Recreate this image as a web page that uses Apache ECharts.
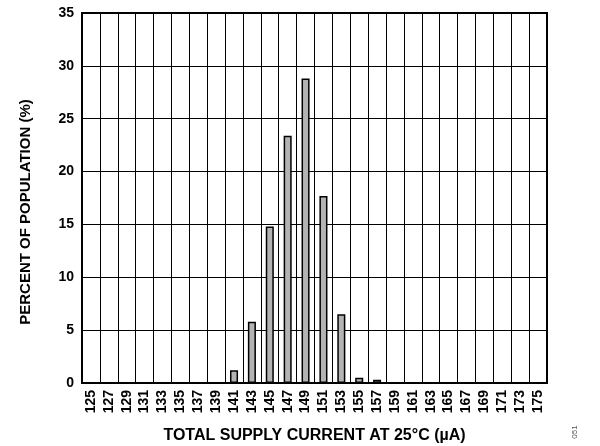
<!DOCTYPE html>
<html><head><meta charset="utf-8">
<script src="https://cdn.jsdelivr.net/npm/echarts@6/dist/echarts.min.js"></script>
<style>html,body{margin:0;padding:0;background:#fff}#c{width:600px;height:446px}</style>
</head><body><div id="c"></div>
<script>
const categories = ['125','127','129','131','133','135','137','139','141','143','145','147','149','151','153','155','157','159','161','163','165','167','169','171','173','175'];
const percentValues = [0,0,0,0,0,0,0,0,1.2,5.8,14.8,23.4,28.8,17.7,6.5,0.5,0.3,0,0,0,0,0,0,0,0,0];
const yTicks = {min: 0, max: 35, interval: 5};
const xTitle = 'TOTAL SUPPLY CURRENT AT 25°C (µA)';
const yTitle = 'PERCENT OF POPULATION (%)';
const figId = '051';

const font = 'Liberation Sans, Arial, sans-serif';
const chart = echarts.init(document.getElementById('c'), null, {renderer: 'canvas'});
chart.setOption({
  animation: false,
  backgroundColor: '#fff',
  grid: {left: 82, right: 53, top: 13, bottom: 63, show: true, borderColor: '#000', borderWidth: 2,
         containLabel: false, outerBoundsMode: 'none'},
  xAxis: {
    type: 'category', data: categories, boundaryGap: true,
    name: xTitle, nameLocation: 'middle', nameGap: 45,
    nameTextStyle: {fontFamily: font, fontWeight: 'bold', fontSize: 16, color: '#000'},
    axisLine: {lineStyle: {color: '#000', width: 2}},
    axisTick: {show: false},
    axisLabel: {rotate: 90, interval: 0, margin: 7, fontFamily: font, fontWeight: 'bold', fontSize: 14, color: '#000'},
    splitLine: {show: true, interval: 0, lineStyle: {color: '#000', width: 1}}
  },
  yAxis: {
    type: 'value', min: yTicks.min, max: yTicks.max, interval: yTicks.interval,
    name: yTitle, nameLocation: 'middle', nameGap: 49,
    nameTextStyle: {fontFamily: font, fontWeight: 'bold', fontSize: 15, color: '#000', padding: [0, 28, 0, 0]},
    axisLine: {show: true, lineStyle: {color: '#000', width: 2}},
    axisTick: {show: false},
    axisLabel: {margin: 8, fontFamily: font, fontWeight: 'bold', fontSize: 14, color: '#000'},
    splitLine: {show: true, lineStyle: {color: '#000', width: 1}}
  },
  series: [{
    type: 'bar', data: percentValues, barWidth: '45%',
    itemStyle: {color: '#b3b3b3', borderColor: '#000', borderWidth: 1.5}
  }],
  graphic: [{
    type: 'text', x: 575, y: 432, rotation: Math.PI / 2,
    style: {text: figId, x: 0, y: 0, align: 'center', verticalAlign: 'middle', textAlign: 'center', textVerticalAlign: 'middle', fontFamily: font, fontSize: 8, fill: '#555'}
  }]
});
</script></body></html>
